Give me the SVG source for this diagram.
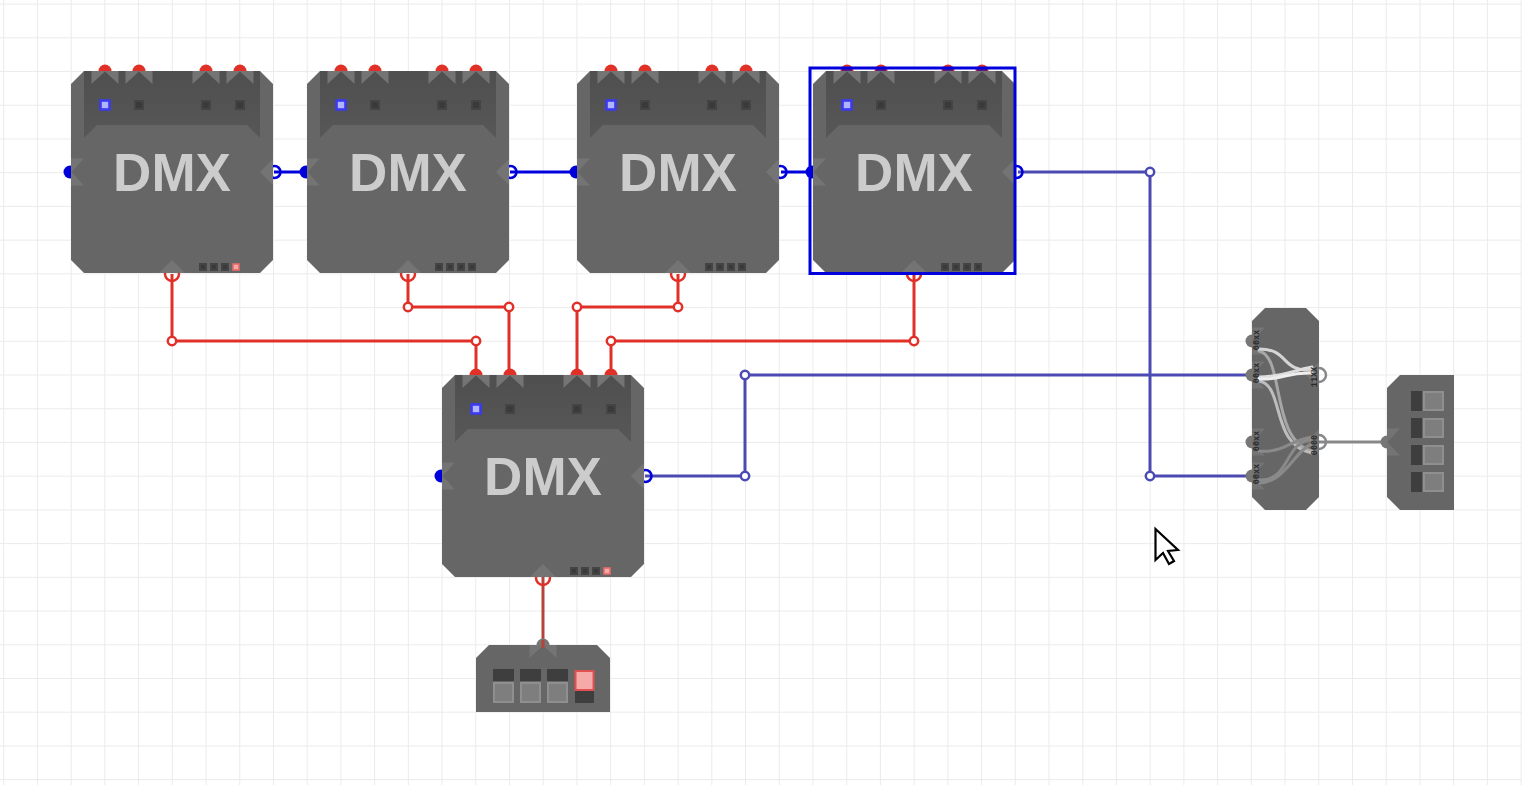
<svg xmlns="http://www.w3.org/2000/svg" width="1522" height="785" viewBox="0 0 1522 785">
<style>
.body{fill:#666}
.well{fill:url(#wellg)}
.port{fill:#747474}
.dmx{font-family:"Liberation Sans",Arial,sans-serif;font-weight:700;font-size:53px;fill:#ccc;text-anchor:middle}
.pin{font-family:"Liberation Mono","Courier New",monospace;font-weight:700;font-size:8.5px;fill:#2a2a2a;text-anchor:middle}
.wire{fill:none;stroke-width:3;stroke-linejoin:miter}
.red{stroke:#e03027}
.blue{stroke:#0000dd}
.slate{stroke:#4a4ab2}
.brick{stroke:#b5433b}
.grey{stroke:#888}
.joint{fill:#fff;stroke-width:2.5}
.off{fill:#3a3a3a;stroke:#444;stroke-width:2}
.sw-dark{fill:#3e3e3e}
.sw-light{fill:#7e7e7e;stroke:#8f8f8f;stroke-width:2}
.inner{fill:none;stroke-linecap:round;stroke-width:3}
</style>
<defs>
<linearGradient id="wellg" x1="0" y1="0" x2="0" y2="1"><stop offset="0" stop-color="#4f4f4f"/><stop offset="1" stop-color="#575757"/></linearGradient>
<pattern id="grid" width="33.72" height="33.72" patternUnits="userSpaceOnUse" x="3.2" y="3.6">
<path d="M0.5 0V33.72M0 0.5H33.72" fill="none" stroke="#ebebeb" stroke-width="1"/>
</pattern>
<polygon id="chev" class="port" points="-13.5,0 13.5,0 13.5,13 0,0.5 -13.5,13"/>
<polygon id="tri" class="port" points="-13,0 0,-13 13,0"/>
<g id="dmx-back">
<g fill="#e03027"><circle cx="34" cy="0" r="6.5"/><circle cx="68" cy="0" r="6.5"/><circle cx="135" cy="0" r="6.5"/><circle cx="169" cy="0" r="6.5"/></g>
<circle cx="-1" cy="101" r="6.5" fill="#0000dd"/>
<circle cx="203.5" cy="101" r="6" fill="none" stroke="#0000dd" stroke-width="2.5"/>
<circle cx="101" cy="203" r="7" fill="none" stroke="#e03027" stroke-width="2.5"/>
</g>
<g id="dmx-shape">
<polygon class="body" points="13,0 189,0 202,13 202,189 189,202 13,202 0,189 0,13"/>
<polygon class="well" points="13,0 189,0 189,67 176,54 26,54 13,67"/>
<use href="#chev" x="34" y="0"/><use href="#chev" x="68" y="0"/><use href="#chev" x="135" y="0"/><use href="#chev" x="169" y="0"/>
<use href="#chev" transform="translate(0,101) rotate(-90)"/>
<use href="#tri" transform="translate(202,101) rotate(-90)"/>
<use href="#tri" x="101" y="202"/>
<rect x="29.500" y="29.500" width="9" height="9" fill="#b0b4ff" stroke="#3a3aee" stroke-width="2.600"/>
<rect x="64" y="30" width="8" height="8" class="off"/><rect x="131" y="30" width="8" height="8" class="off"/><rect x="165" y="30" width="8" height="8" class="off"/>
<g><rect x="129" y="193" width="6" height="6" class="off"/><rect x="140" y="193" width="6" height="6" class="off"/><rect x="151" y="193" width="6" height="6" class="off"/></g>
</g>
</defs>
<rect width="1522" height="785" fill="#fff"/>
<rect width="1522" height="785" fill="url(#grid)"/>
<g id="connectors">
<path class="wire blue" d="M274 172H305"/>
<path class="wire blue" d="M510 172H575"/>
<path class="wire blue" d="M781 172H811"/>
<path class="wire slate" d="M1018 172H1150V476H1252"/>
<path class="wire slate" d="M645 476H745V375H1252"/>
<path class="wire red" d="M172 274V341H476V375"/>
<path class="wire red" d="M408 274V307H509V375"/>
<path class="wire red" d="M678 274V307H577V375"/>
<path class="wire red" d="M914 274V341H611V375"/>
<path class="wire brick" d="M543 577V645"/>
<path class="wire grey" d="M1319 442H1387"/>
<g class="red">
<circle class="joint" cx="172" cy="341" r="4.200"/><circle class="joint" cx="476" cy="341" r="4.200"/>
<circle class="joint" cx="408" cy="307" r="4.200"/><circle class="joint" cx="509" cy="307" r="4.200"/>
<circle class="joint" cx="577" cy="307" r="4.200"/><circle class="joint" cx="678" cy="307" r="4.200"/>
<circle class="joint" cx="611" cy="341" r="4.200"/><circle class="joint" cx="914" cy="341" r="4.200"/>
</g>
<g class="slate">
<circle class="joint" cx="1150" cy="172" r="4.200"/><circle class="joint" cx="1150" cy="476" r="4.200"/>
<circle class="joint" cx="745" cy="375" r="4.200"/><circle class="joint" cx="745" cy="476" r="4.200"/>
</g>
</g>
<g id="dmx-1" transform="translate(71,71)">
<use href="#dmx-back"/><use href="#dmx-shape"/>
<rect x="162" y="193" width="6" height="6" fill="#f7a8a8" stroke="#e86a6a" stroke-width="1.600"/>
<text class="dmx" x="101" y="120">DMX</text>
</g>
<g id="dmx-2" transform="translate(307,71)">
<use href="#dmx-back"/><use href="#dmx-shape"/>
<rect x="162" y="193" width="6" height="6" class="off"/>
<text class="dmx" x="101" y="120">DMX</text>
</g>
<g id="dmx-3" transform="translate(577,71)">
<use href="#dmx-back"/><use href="#dmx-shape"/>
<rect x="162" y="193" width="6" height="6" class="off"/>
<text class="dmx" x="101" y="120">DMX</text>
</g>
<g id="dmx-4" transform="translate(813,71)">
<use href="#dmx-back"/><use href="#dmx-shape"/>
<rect x="162" y="193" width="6" height="6" class="off"/>
<text class="dmx" x="101" y="120">DMX</text>
<g fill="#5a1a80"><rect x="29" y="-2" width="10" height="2"/><rect x="63" y="-2" width="10" height="2"/><rect x="130" y="-2" width="10" height="2"/><rect x="164" y="-2" width="10" height="2"/></g>
<rect x="-3" y="-3" width="205" height="205.500" fill="none" stroke="#0000dd" stroke-width="3"/>
</g>
<g id="dmx-5" transform="translate(442,375)">
<use href="#dmx-back"/><use href="#dmx-shape"/>
<rect x="162" y="193" width="6" height="6" fill="#f7a8a8" stroke="#e86a6a" stroke-width="1.600"/>
<text class="dmx" x="101" y="120">DMX</text>
</g>
<g id="switch-bottom">
<circle cx="543" cy="645" r="6.500" fill="#777"/>
<polygon class="body" points="476,658 489,645 597,645 610,658 610,712 476,712"/>
<use href="#chev" x="543" y="645"/>
<path d="M543 640V648" stroke="#b5433b" stroke-width="3" fill="none"/>
<rect class="sw-dark" x="493" y="669" width="21" height="12"/><rect class="sw-light" x="494" y="683" width="19" height="19"/>
<rect class="sw-dark" x="520" y="669" width="21" height="12"/><rect class="sw-light" x="521" y="683" width="19" height="19"/>
<rect class="sw-dark" x="547" y="669" width="21" height="12"/><rect class="sw-light" x="548" y="683" width="19" height="19"/>
<rect x="575.500" y="671" width="18" height="19" fill="#f6a9a9" stroke="#e05050" stroke-width="2"/>
<rect class="sw-dark" x="575" y="691" width="19" height="12"/>
</g>
<g id="splitter">
<g fill="#777"><circle cx="1252" cy="341" r="6.500"/><circle cx="1252" cy="375" r="6.500"/><circle cx="1252" cy="442" r="6.500"/><circle cx="1252" cy="476" r="6.500"/></g>
<g fill="none" stroke="#888" stroke-width="2.500"><circle cx="1319" cy="375" r="7"/><circle cx="1319" cy="442" r="7"/></g>
<polygon class="body" points="1265,308 1306,308 1319,321 1319,497 1306,510 1265,510 1252,497 1252,321"/>
<use href="#chev" transform="translate(1252,341) rotate(-90)"/>
<use href="#chev" transform="translate(1252,375) rotate(-90)"/>
<use href="#chev" transform="translate(1252,442) rotate(-90)"/>
<use href="#chev" transform="translate(1252,476) rotate(-90)"/>
<use href="#tri" transform="translate(1319,375) rotate(-90)"/>
<use href="#tri" transform="translate(1319,442) rotate(-90)"/>
<g class="inner">
<path d="M1259 351C1285 356 1270 440 1312 451" stroke="#a6a6a6"/>
<path d="M1259 381C1285 385 1270 445 1312 453" stroke="#bdbdbd"/>
<path d="M1259 451C1285 453 1290 440 1312 437" stroke="#8a8a8a"/>
<path d="M1259 480C1290 482 1285 440 1312 440" stroke="#8a8a8a"/>
<path d="M1259 483C1285 483 1295 450 1312 444" stroke="#8a8a8a"/>
<path d="M1259 349C1290 349 1280 372 1312 370" stroke="#d4d4d4"/>
<path d="M1259 377C1280 377 1295 370 1312 367" stroke="#dedede"/>
<path d="M1259 379C1285 380 1285 372 1312 373" stroke="#eee"/>
</g>
<text class="pin" transform="translate(1259,340) rotate(-90)">00xx</text>
<text class="pin" transform="translate(1259,373) rotate(-90)">00xx</text>
<text class="pin" transform="translate(1259,441) rotate(-90)">00xx</text>
<text class="pin" transform="translate(1259,474) rotate(-90)">00xx</text>
<text class="pin" transform="translate(1317,377) rotate(-90)">11XX</text>
<text class="pin" transform="translate(1317,445) rotate(-90)">0000</text>
</g>
<g id="switch-right">
<circle cx="1387" cy="442" r="6.500" fill="#777"/>
<polygon class="body" points="1387,388 1400,375 1454,375 1454,510 1400,510 1387,497"/>
<use href="#chev" transform="translate(1387,442) rotate(-90)"/>
<rect class="sw-dark" x="1411" y="391" width="11" height="20"/><rect class="sw-light" x="1424" y="392" width="19" height="18"/>
<rect class="sw-dark" x="1411" y="418" width="11" height="20"/><rect class="sw-light" x="1424" y="419" width="19" height="18"/>
<rect class="sw-dark" x="1411" y="445" width="11" height="20"/><rect class="sw-light" x="1424" y="446" width="19" height="18"/>
<rect class="sw-dark" x="1411" y="472" width="11" height="20"/><rect class="sw-light" x="1424" y="473" width="19" height="18"/>
</g>
<polygon id="cursor" points="1155.500,529 1155.500,560 1163,553 1169,564 1174,561 1168,551 1178,550" fill="#fff" stroke="#000" stroke-width="2.200" stroke-linejoin="miter"/>
</svg>
